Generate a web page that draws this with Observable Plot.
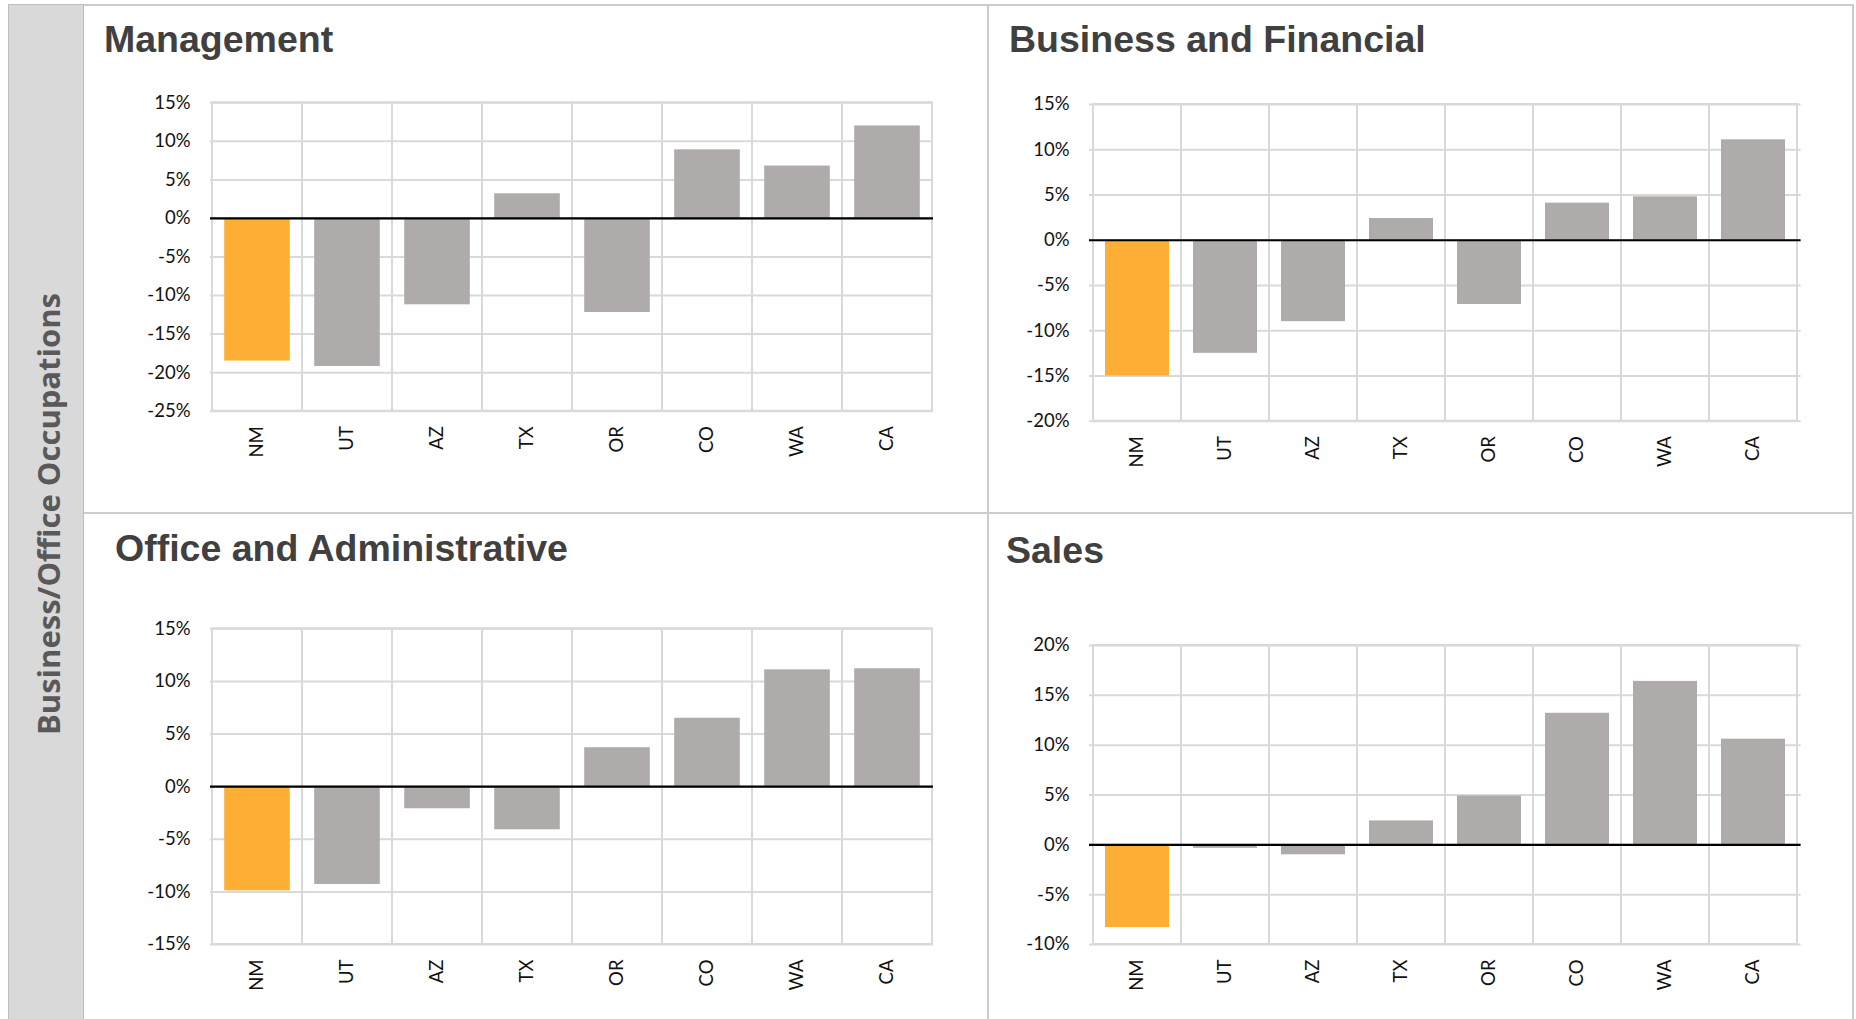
<!DOCTYPE html>
<html>
<head>
<meta charset="utf-8">
<script src="https://cdn.jsdelivr.net/npm/d3@7"></script>
<script src="https://cdn.jsdelivr.net/npm/@observablehq/plot@0.6"></script>
<style>
  html, body { margin: 0; padding: 0; background: #fff; }
  #root { position: relative; width: 1856px; height: 1019px; overflow: hidden; background: #fff; }
  .title { position: absolute; font-family: "Liberation Sans", Arial, sans-serif; font-weight: bold; font-size: 37.5px; line-height: 37.5px; color: #404040; white-space: nowrap; }
  .line { position: absolute; background: #cccccc; }
  #strip { position: absolute; left: 8px; top: 4px; width: 76px; height: 1030px; background: #d9d9d9; border: 1px solid #bfbfbf; box-sizing: border-box; }
  #sideTitle { position: absolute; left: 48px; top: 514px; transform: translate(-50%, -50%) rotate(-90deg); font-family: "Open Sans", sans-serif; font-weight: bold; font-size: 31px; color: #595959; white-space: nowrap; }
  svg { overflow: visible; }
</style>
</head>
<body>
<div id="root">
  <div id="strip"></div>
  <div id="sideTitle">Business/Office Occupations</div>
  <div class="line" style="left:84px; top:4px; width:1770px; height:2px;"></div>
  <div class="line" style="left:1852px; top:4px; width:2px; height:1015px;"></div>
  <div class="line" style="left:987px; top:4px; width:2px; height:1015px;"></div>
  <div class="line" style="left:84px; top:512px; width:1770px; height:2px;"></div>
</div>
<script>
// ---- data ----
const states = ["NM", "UT", "AZ", "TX", "OR", "CO", "WA", "CA"];
const highlightState = "NM";

const panelTitles = ["Management", "Business and Financial", "Office and Administrative", "Sales"];

const management        = [-18.5, -19.2, -11.2, 3.2, -12.2, 8.9, 6.8, 12.0];
const businessFinancial = [-15.0, -12.5, -9.0, 2.4, -7.1, 4.1, 4.8, 11.1];
const officeAdmin       = [-9.9, -9.3, -2.1, -4.1, 3.7, 6.5, 11.1, 11.2];
const sales             = [-8.3, -0.35, -1.0, 2.4, 4.9, 13.2, 16.4, 10.6];

const managementTicks        = [-25, -20, -15, -10, -5, 0, 5, 10, 15];
const businessFinancialTicks = [-20, -15, -10, -5, 0, 5, 10, 15];
const officeAdminTicks       = [-15, -10, -5, 0, 5, 10, 15];
const salesTicks             = [-10, -5, 0, 5, 10, 15, 20];

// ---- styling ----
const ORANGE = "#FDAE34";
const GRAY = "#AFABAB";
const GRID = "#d9d9d9";

// ---- layout of the four panels (svg box + plot area) ----
const panels = [
  {title: panelTitles[0], values: management, ticks: managementTicks,
   box: {left: 86, top: 6, width: 900, height: 505}, area: {x0: 210, x1: 933, y0: 102.3, y1: 410.7},
   titlePos: {left: 104, top: 21}},
  {title: panelTitles[1], values: businessFinancial, ticks: businessFinancialTicks,
   box: {left: 990, top: 6, width: 862, height: 505}, area: {x0: 1089, x1: 1800.6, y0: 104, y1: 420.7},
   titlePos: {left: 1009, top: 21}},
  {title: panelTitles[2], values: officeAdmin, ticks: officeAdminTicks,
   box: {left: 86, top: 515, width: 900, height: 504}, area: {x0: 210, x1: 933, y0: 628.3, y1: 944},
   titlePos: {left: 115, top: 529.5}},
  {title: panelTitles[3], values: sales, ticks: salesTicks,
   box: {left: 990, top: 515, width: 862, height: 504}, area: {x0: 1089, x1: 1800.6, y0: 645, y1: 944},
   titlePos: {left: 1006, top: 532}}
];

const root = document.getElementById("root");

for (const p of panels) {
  const data = states.map((s, i) => ({state: s, value: p.values[i]}));
  const {left, top, width, height} = p.box;
  const {x0, x1, y0, y1} = p.area;
  const step = (x1 - x0) / states.length;
  const inset = step * 0.135;

  const chart = Plot.plot({
    width, height,
    marginLeft: x0 - left,
    marginRight: left + width - x1,
    marginTop: y0 - top,
    marginBottom: top + height - y1,
    style: {fontFamily: "Lato, 'Liberation Sans', sans-serif", fontSize: "18px", color: "#111", background: "transparent", overflow: "visible"},
    x: {domain: states, padding: 0, label: null},
    y: {domain: [d3.min(p.ticks), d3.max(p.ticks)], label: null},
    marks: [
      Plot.gridY(p.ticks, {stroke: GRID, strokeOpacity: 1, strokeWidth: 2}),
      Plot.cell(states, {x: d => d, fill: "none", stroke: GRID, strokeWidth: 2, inset: 0}),
      Plot.barY(data, {x: "state", y: "value", fill: d => d.state === highlightState ? ORANGE : GRAY, insetLeft: inset, insetRight: inset}),
      Plot.ruleY([0], {stroke: "#000", strokeWidth: 2.2}),
      Plot.axisY(p.ticks, {tickSize: 0, tickPadding: 20, tickFormat: d => d + "%", fontSize: 18.5, label: null}),
      Plot.axisX({tickSize: 0, tickPadding: 15, tickRotate: -90, fontSize: 18.5, label: null})
    ]
  });
  chart.style.position = "absolute";
  chart.style.left = left + "px";
  chart.style.top = top + "px";
  root.appendChild(chart);

  const t = document.createElement("div");
  t.className = "title";
  t.textContent = p.title;
  t.style.left = p.titlePos.left + "px";
  t.style.top = p.titlePos.top + "px";
  root.appendChild(t);
}
</script>
</body>
</html>
